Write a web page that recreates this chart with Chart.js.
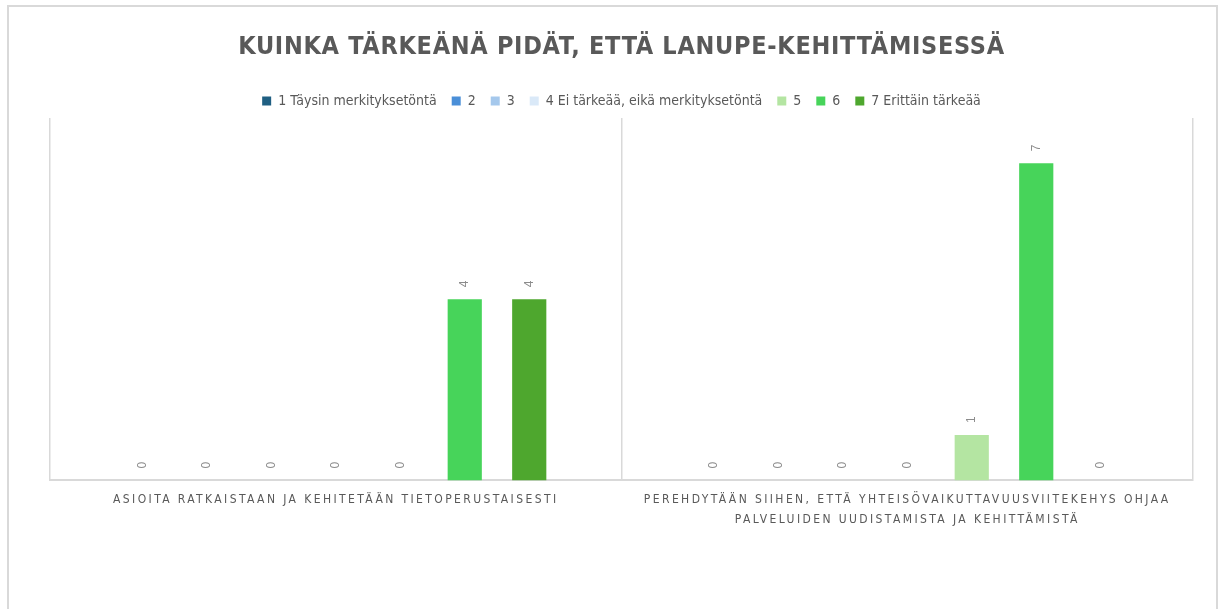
<!DOCTYPE html>
<html lang="fi">
<head>
<meta charset="utf-8">
<title>Lanupe-kehittäminen</title>
<script src="https://cdn.jsdelivr.net/npm/chart.js@4.4.1/dist/chart.umd.min.js"></script>
<style>
  html, body { margin: 0; padding: 0; background: #fff; }
  #wrap { position: relative; width: 1224px; height: 609px; overflow: hidden; }
  #frame { position: absolute; left: 7px; top: 5px; width: 1207px; height: 700px; border: 2px solid #d9d9d9; }
  #chart { position: absolute; left: 0; top: 0; }
</style>
</head>
<body>
<div id="wrap">
  <div id="frame"></div>
  <canvas id="chart" width="1224" height="609"></canvas>
</div>
<script>
// ==============================
// Data
// ==============================
const kategoriat = [
  "ASIOITA RATKAISTAAN JA KEHITETÄÄN TIETOPERUSTAISESTI",
  ["PEREHDYTÄÄN SIIHEN, ETTÄ YHTEISÖVAIKUTTAVUUSVIITEKEHYS OHJAA", "PALVELUIDEN UUDISTAMISTA JA KEHITTÄMISTÄ"]
];
const sarjaNimet = [
  "1 Täysin merkityksetöntä",
  "2",
  "3",
  "4 Ei tärkeää, eikä merkityksetöntä",
  "5",
  "6",
  "7 Erittäin tärkeää"
];
const arvo1 = [0, 0];
const arvo2 = [0, 0];
const arvo3 = [0, 0];
const arvo4 = [0, 0];
const arvo5 = [0, 1];
const arvo6 = [4, 7];
const arvo7 = [4, 0];
const varit = ["#1f5f82", "#4a8fd8", "#a5c8ec", "#dae9f8", "#b4e5a2", "#47d45a", "#4ea72e"];

const kaikkiArvot = [arvo1, arvo2, arvo3, arvo4, arvo5, arvo6, arvo7];
const kapea = '"Liberation Sans Narrow", "DejaVu Sans Condensed", "Roboto Condensed", sans-serif';

// Arvot pystyyn palkkien päälle
const arvoTekstit = {
  id: "arvoTekstit",
  afterDatasetsDraw(chart) {
    const ctx = chart.ctx;
    ctx.save();
    ctx.font = '12px "Liberation Sans", Arial, sans-serif';
    ctx.fillStyle = "#8c8c8c";
    ctx.textAlign = "left";
    ctx.textBaseline = "middle";
    chart.data.datasets.forEach((ds, i) => {
      chart.getDatasetMeta(i).data.forEach((bar, j) => {
        ctx.save();
        ctx.translate(bar.x, bar.y - 12);
        ctx.rotate(-Math.PI / 2);
        ctx.fillText(String(ds.data[j]), 0, 0);
        ctx.restore();
      });
    });
    ctx.restore();
  }
};

// Harvennettu teksti otsikolle ja akselin nimille
const harvennus = {
  id: "harvennus",
  beforeDraw(chart) {
    const ctx = chart.ctx;
    const x = chart.scales.x;
    if (x && !x._harv) {
      const orig = x.drawLabels.bind(x);
      x.drawLabels = (area) => {
        ctx.save();
        ctx.letterSpacing = "2.4px";
        orig(area);
        ctx.restore();
      };
      x._harv = true;
    }
    const t = chart.titleBlock;
    if (t && !t._harv) {
      const origT = t.draw.bind(t);
      t.draw = (area) => {
        ctx.save();
        ctx.letterSpacing = "0.7px";
        origT(area);
        ctx.restore();
      };
      t._harv = true;
    }
  }
};

new Chart(document.getElementById("chart"), {
  type: "bar",
  data: {
    labels: kategoriat,
    datasets: sarjaNimet.map((nimi, i) => ({
      label: nimi,
      data: kaikkiArvot[i],
      backgroundColor: varit[i],
      borderWidth: 0,
      categoryPercentage: 0.79,
      barPercentage: 0.53
    }))
  },
  options: {
    responsive: false,
    animation: false,
    layout: { padding: { left: 50, right: 31, top: 10, bottom: 69 } },
    plugins: {
      title: {
        display: true,
        text: "KUINKA TÄRKEÄNÄ PIDÄT, ETTÄ LANUPE-KEHITTÄMISESSÄ",
        color: "#595959",
        font: { family: kapea, size: 25, weight: "bold" },
        padding: { top: 22, bottom: 17 }
      },
      legend: {
        position: "top",
        labels: {
          color: "#595959",
          font: { family: kapea, size: 14 },
          boxWidth: 9,
          boxHeight: 9,
          padding: 15
        }
      },
      tooltip: { enabled: false }
    },
    scales: {
      x: {
        grid: { display: true, color: "#d9d9d9", lineWidth: 1.5, offset: true, drawTicks: false },
        border: { color: "#d9d9d9", width: 2 },
        ticks: {
          color: "#595959",
          font: { family: kapea, size: 12, lineHeight: 1.65 },
          padding: 10,
          autoSkip: false,
          maxRotation: 0,
          minRotation: 0
        }
      },
      y: {
        display: false,
        min: 0,
        max: 8
      }
    }
  },
  plugins: [arvoTekstit, harvennus]
});
</script>
</body>
</html>
